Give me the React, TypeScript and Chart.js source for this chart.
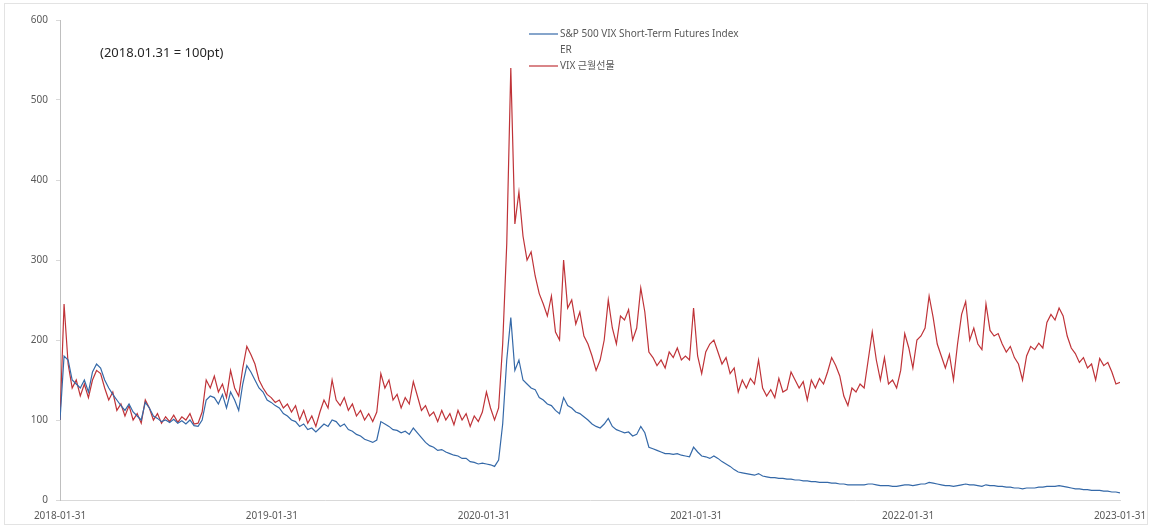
import React, { useEffect, useRef } from "react";
import { Chart, registerables } from "chart.js";

Chart.register(...registerables);

// X-axis tick labels and their day offsets from 2018-01-31
const xTickLabels = ["2018-01-31", "2019-01-31", "2020-01-31", "2021-01-31", "2022-01-31", "2023-01-31"];
const xTickDays = [0, 365, 730, 1096, 1461, 1826];

const seriesNames = ["S&P 500 VIX Short-Term Futures Index", "VIX 근월선물"];
const seriesNameSecondLine = "ER";
const baseNote = "(2018.01.31 = 100pt)";

// Weekly readings, 2018-01-31 .. 2023-01-31
const blue2018 = [100, 180, 175, 150, 145, 140, 150, 135, 160, 170, 165, 150, 140, 132, 125, 118, 112, 120, 110, 105, 100, 122, 115, 105, 102, 98, 100, 97, 101, 96, 99, 95, 100, 93, 92, 100, 125, 130, 128, 120, 132, 115, 135, 125, 112, 145, 168, 160, 150, 140, 135, 125, 122];
const blue2019 = [118, 115, 108, 105, 100, 98, 92, 95, 88, 90, 85, 90, 95, 92, 100, 98, 92, 95, 88, 86, 82, 80, 76, 74, 72, 75, 98, 95, 92, 88, 87, 84, 86, 82, 90, 84, 78, 72, 68, 66, 62, 63, 60, 58, 56, 55, 52, 52, 48, 47, 45, 46];
const blue2020 = [45, 44, 42, 50, 95, 175, 228, 162, 175, 150, 145, 140, 138, 128, 125, 120, 118, 112, 108, 128, 118, 115, 110, 108, 104, 100, 95, 92, 90, 95, 102, 92, 88, 86, 84, 85, 80, 82, 92, 84, 66, 64, 62, 60, 58, 58, 57, 58, 56, 55, 54, 66];
const blue2021 = [60, 55, 54, 52, 55, 52, 48, 45, 42, 38, 35, 34, 33, 32, 31, 33, 30, 29, 28, 28, 27, 27, 26, 26, 25, 25, 24, 24, 23, 23, 22, 22, 22, 21, 21, 20, 20, 19, 19, 19, 19, 19, 20, 20, 19, 18, 18, 18, 17, 17, 18, 19];
const blue2022 = [19, 18, 19, 20, 20, 22, 21, 20, 19, 18, 18, 17, 18, 19, 20, 19, 19, 18, 17, 19, 18, 18, 17, 17, 16, 16, 15, 15, 14, 15, 15, 15, 16, 16, 17, 17, 17, 18, 17, 16, 15, 14, 14, 13, 13, 12, 12, 12, 11, 11, 10, 10, 9];

const red2018 = [100, 245, 170, 140, 150, 130, 145, 128, 150, 162, 158, 140, 125, 135, 112, 120, 105, 118, 100, 108, 96, 125, 115, 100, 108, 96, 104, 98, 106, 97, 104, 100, 108, 95, 96, 110, 150, 140, 155, 135, 145, 128, 162, 140, 130, 165, 192, 182, 170, 150, 140, 132, 128];
const red2019 = [122, 125, 115, 120, 110, 118, 100, 112, 96, 105, 92, 110, 125, 115, 150, 125, 118, 128, 112, 120, 105, 112, 100, 108, 98, 110, 158, 140, 150, 125, 132, 115, 128, 120, 148, 130, 112, 118, 105, 110, 98, 112, 100, 108, 94, 112, 100, 108, 92, 105, 98, 110];
const red2020 = [135, 115, 100, 115, 195, 320, 540, 345, 385, 330, 300, 310, 280, 258, 245, 230, 255, 210, 200, 300, 240, 250, 220, 235, 205, 195, 180, 162, 175, 200, 250, 215, 195, 230, 225, 238, 200, 215, 265, 235, 185, 178, 168, 175, 165, 185, 178, 190, 175, 180, 175, 240];
const red2021 = [180, 158, 185, 195, 200, 185, 170, 178, 158, 165, 135, 150, 140, 152, 145, 175, 140, 130, 138, 128, 152, 135, 138, 160, 150, 140, 148, 125, 150, 140, 152, 145, 160, 178, 168, 155, 130, 118, 140, 135, 145, 140, 175, 210, 175, 150, 178, 145, 150, 140, 162, 208];
const red2022 = [190, 165, 200, 205, 215, 255, 228, 195, 180, 165, 182, 150, 195, 232, 248, 200, 215, 195, 188, 245, 212, 205, 208, 195, 185, 192, 178, 170, 150, 180, 192, 188, 196, 190, 222, 232, 225, 240, 230, 205, 190, 183, 172, 178, 165, 170, 150, 177, 168, 172, 160, 145, 147];

const blueValues = [...blue2018, ...blue2019, ...blue2020, ...blue2021, ...blue2022];
const redValues = [...red2018, ...red2019, ...red2020, ...red2021, ...red2022];

const BLUE = "#3569a8";
const RED = "#bf3338";
const TEXT = "#595959";
const FONT = '"Noto Sans", "Noto Sans CJK KR", sans-serif';

export default function App() {
  const ref = useRef<HTMLCanvasElement>(null);

  useEffect(() => {
    document.body.style.margin = "0";
    const canvas = ref.current;
    if (!canvas) return;
    const n = blueValues.length;
    const span = xTickDays[xTickDays.length - 1];
    const toPts = (vals: number[]) => vals.map((v, i) => ({ x: (i * span) / (n - 1), y: v }));

    const overlay = {
      id: "overlay",
      beforeDraw(chart: any) {
        const ctx = chart.ctx;
        ctx.save();
        ctx.strokeStyle = "#e3e3e3";
        ctx.lineWidth = 1;
        ctx.strokeRect(4.5, 3.5, 1143, 521);
        ctx.restore();
      },
      afterDraw(chart: any) {
        const ctx = chart.ctx;
        ctx.save();
        ctx.textBaseline = "middle";
        ctx.textAlign = "left";
        ctx.font = `13px ${FONT}`;
        ctx.fillStyle = "#262626";
        ctx.fillText(baseNote, 100, 53);

        ctx.font = `10px ${FONT}`;
        ctx.fillStyle = TEXT;
        ctx.lineWidth = 1.2;
        ctx.strokeStyle = BLUE;
        ctx.beginPath();
        ctx.moveTo(529, 34);
        ctx.lineTo(558, 34);
        ctx.stroke();
        ctx.fillText(seriesNames[0], 560, 34);
        ctx.fillText(seriesNameSecondLine, 560, 50);
        ctx.strokeStyle = RED;
        ctx.beginPath();
        ctx.moveTo(529, 66);
        ctx.lineTo(558, 66);
        ctx.stroke();
        ctx.fillText(seriesNames[1], 560, 66);
        ctx.restore();
      },
    };

    const chart = new Chart(canvas, {
      type: "line",
      data: {
        datasets: [
          {
            label: seriesNames[0] + " " + seriesNameSecondLine,
            data: toPts(blueValues),
            borderColor: BLUE,
            borderWidth: 1.2,
            pointRadius: 0,
            tension: 0,
          },
          {
            label: seriesNames[1],
            data: toPts(redValues),
            borderColor: RED,
            borderWidth: 1.2,
            pointRadius: 0,
            tension: 0,
          },
        ],
      },
      options: {
        animation: false,
        responsive: true,
        maintainAspectRatio: false,
        layout: { padding: { top: 20, right: 37, left: 0, bottom: 0 } },
        plugins: { legend: { display: false }, tooltip: { enabled: false } },
        scales: {
          x: {
            type: "linear",
            min: 0,
            max: span,
            afterBuildTicks: (s: any) => {
              s.ticks = xTickDays.map((v) => ({ value: v }));
            },
            ticks: {
              autoSkip: false,
              maxRotation: 0,
              padding: 10,
              color: TEXT,
              font: { size: 10, family: FONT },
              callback: (v: any) => {
                const k = xTickDays.indexOf(Number(v));
                return k >= 0 ? xTickLabels[k] : "";
              },
            },
            grid: { drawOnChartArea: false, drawTicks: false },
            border: { color: "#d9d9d9" },
            afterFit: (s: any) => {
              s.height = 27;
            },
          },
          y: {
            min: 0,
            max: 600,
            ticks: {
              stepSize: 100,
              padding: 8,
              color: TEXT,
              font: { size: 10, family: FONT },
            },
            grid: { drawOnChartArea: false, tickLength: 4, color: "#d9d9d9" },
            border: { color: "#bfbfbf" },
            afterFit: (s: any) => {
              s.width = 60;
            },
          },
        },
      },
      plugins: [overlay],
    });
    return () => chart.destroy();
  }, []);

  return (
    <div style={{ width: 1157, height: 527, position: "relative", background: "#fff" }}>
      <canvas ref={ref} />
    </div>
  );
}
